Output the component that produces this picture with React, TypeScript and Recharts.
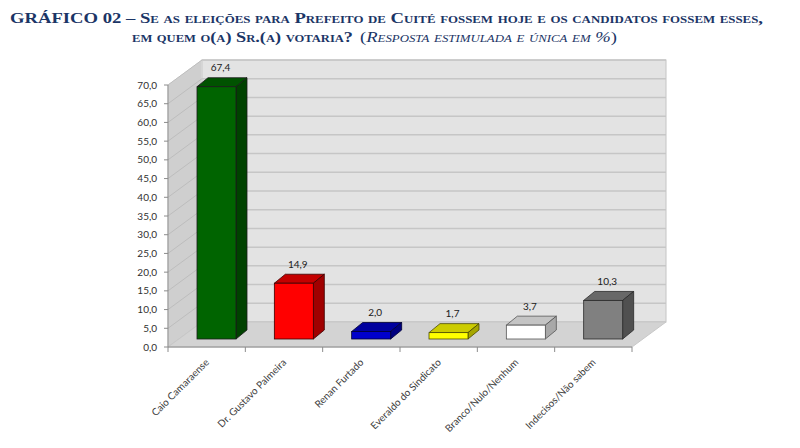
import React from 'react';
import { BarChart, Bar, XAxis, YAxis, ReferenceArea, LabelList } from 'recharts';

const categories = [
  'Caio Camaraense',
  'Dr. Gustavo Palmeira',
  'Renan Furtado',
  'Everaldo do Sindicato',
  'Branco/Nulo/Nenhum',
  'Indecisos/Não sabem',
];
const values = [67.4, 14.9, 2.0, 1.7, 3.7, 10.3];
const yTicks = [0, 5, 10, 15, 20, 25, 30, 35, 40, 45, 50, 55, 60, 65, 70];
const frontColors = ['#006400', '#FF0000', '#0000CC', '#FFFF00', '#FFFFFF', '#808080'];
const topColors = ['#005200', '#C40000', '#00009E', '#CCCC00', '#C4C4C4', '#686868'];
const sideColors = ['#004200', '#A00000', '#000080', '#A6A600', '#A8A8A8', '#505050'];
const strokeColors = ['#1a1a1a', '#3a0000', '#000033', '#4a4a00', '#555555', '#2a2a2a'];

const data = categories.map((name, i) => ({ name, value: values[i] }));

// 3D geometry (style constants)
const DEPTH_X = 34;
const DEPTH_Y = -25;
const FRONT_X = 10;
const FRONT_Y = -8;
const BAR_DX = 11;
const BAR_DY = -9;

const fmt = (v: number) => v.toFixed(1).replace('.', ',');
const FONT = 'Lato, "Open Sans", sans-serif';

const Walls = (props: any) => {
  const { x, y, width, height } = props;
  const maxV = yTicks[yTicks.length - 1];
  const yOf = (v: number) => y + height - (v / maxV) * height;
  const n = categories.length;
  return (
    <g>
      {/* back wall */}
      <rect x={x + DEPTH_X} y={y + DEPTH_Y} width={width} height={height} fill="#E3E3E3" stroke="#C4C4C4" strokeWidth={1} />
      {/* left wall */}
      <polygon
        points={`${x},${y} ${x + DEPTH_X},${y + DEPTH_Y} ${x + DEPTH_X},${y + height + DEPTH_Y} ${x},${y + height}`}
        fill="#CFCFCF"
        stroke="#DADADA"
        strokeWidth={1}
      />
      {yTicks.map((t) => (
        <g key={t}>
          <line x1={x + DEPTH_X} x2={x + DEPTH_X + width} y1={yOf(t) + DEPTH_Y} y2={yOf(t) + DEPTH_Y} stroke="#C6C6C6" strokeWidth={1.5} />
          <line x1={x} x2={x + DEPTH_X} y1={yOf(t)} y2={yOf(t) + DEPTH_Y} stroke="#BDBDBD" strokeWidth={1} />
        </g>
      ))}
      {/* floor */}
      <polygon
        points={`${x},${y + height} ${x + width},${y + height} ${x + width + DEPTH_X},${y + height + DEPTH_Y} ${x + DEPTH_X},${y + height + DEPTH_Y}`}
        fill="#D3D3D3"
        stroke="#C8C8C8"
        strokeWidth={1}
      />
      {Array.from({ length: n + 1 }).map((_, i) => (
        <line key={i} x1={x + (i * width) / n} x2={x + (i * width) / n} y1={y + height} y2={y + height + 5} stroke="#8C8C8C" strokeWidth={1} />
      ))}
    </g>
  );
};

const Bar3D = (props: any) => {
  const { x, y, width, height, index } = props;
  if (width == null || height == null) return null;
  const fx = x + FRONT_X;
  const fy = y + FRONT_Y;
  const w = width;
  const h = height;
  const sc = strokeColors[index];
  return (
    <g>
      <polygon
        points={`${fx},${fy} ${fx + w},${fy} ${fx + w + BAR_DX},${fy + BAR_DY} ${fx + BAR_DX},${fy + BAR_DY}`}
        fill={topColors[index]}
        stroke={sc}
        strokeWidth={0.8}
        strokeLinejoin="round"
      />
      <polygon
        points={`${fx + w},${fy} ${fx + w + BAR_DX},${fy + BAR_DY} ${fx + w + BAR_DX},${fy + h + BAR_DY} ${fx + w},${fy + h}`}
        fill={sideColors[index]}
        stroke={sc}
        strokeWidth={0.8}
        strokeLinejoin="round"
      />
      <rect x={fx} y={fy} width={w} height={h} fill={frontColors[index]} stroke={sc} strokeWidth={0.8} />
    </g>
  );
};

const ValueLabel = (props: any) => {
  const { x, y, width, value } = props;
  return (
    <text
      x={x + width / 2 + 14}
      y={y - 26}
      textAnchor="middle"
      dominantBaseline="middle"
      fontSize={10}
      fontFamily={FONT}
      fill="#202020"
    >
      {fmt(Number(value))}
    </text>
  );
};

const XTick = (props: any) => {
  const { x, y, payload } = props;
  return (
    <g transform={`translate(${x + 3},${y + 16}) rotate(-45)`}>
      <text x={0} y={0} textAnchor="end" fontSize={10} fontFamily={FONT} fill="#404040">
        {payload.value}
      </text>
    </g>
  );
};

const TITLE_COLOR = '#1B3566';

export default function App() {
  return (
    <div style={{ position: 'absolute', left: 0, top: 0, width: 800, height: 448, background: '#fff' }}>
      <svg width={800} height={50} style={{ position: 'absolute', left: 0, top: 0 }}>
        <text
          x={10}
          y={22.5}
          textLength={753}
          lengthAdjust="spacingAndGlyphs"
          fontFamily='"Liberation Serif", "Times New Roman", serif'
          fontSize={14.5}
          fontWeight="bold"
          fill={TITLE_COLOR}
          style={{ fontVariant: 'small-caps' }}
        >
          GRÁFICO 02 – Se as eleições para Prefeito de Cuité fossem hoje e os candidatos fossem esses,
        </text>
        <text
          x={132}
          y={41.5}
          textLength={221}
          lengthAdjust="spacingAndGlyphs"
          fontFamily='"Liberation Serif", "Times New Roman", serif'
          fontSize={14.5}
          fontWeight="bold"
          fill={TITLE_COLOR}
          style={{ fontVariant: 'small-caps' }}
        >
          em quem o(a) Sr.(a) votaria?
        </text>
        <text
          x={360}
          y={41.5}
          textLength={257}
          lengthAdjust="spacingAndGlyphs"
          fontFamily='"Liberation Serif", "Times New Roman", serif'
          fontSize={14.5}
          fill={TITLE_COLOR}
          style={{ fontVariant: 'small-caps' }}
        >
          <tspan>(</tspan>
          <tspan fontStyle="italic">Resposta estimulada e única em %</tspan>
          <tspan>)</tspan>
        </text>
      </svg>
      <div style={{ position: 'absolute', left: 0, top: 0 }}>
        <BarChart width={800} height={448} data={data} margin={{ top: 85, right: 168, bottom: 0, left: 128 }}>
          <ReferenceArea y1={0} y2={70} ifOverflow="visible" shape={(p: any) => <Walls {...p} />} />
          <XAxis
            dataKey="name"
            height={101}
            interval={0}
            tickLine={false}
            tickSize={0}
            tickMargin={0}
            axisLine={{ stroke: '#8C8C8C' }}
            tick={<XTick />}
          />
          <YAxis
            width={40}
            domain={[0, 70]}
            ticks={yTicks}
            interval={0}
            tickFormatter={fmt}
            tickSize={4}
            tickMargin={7}
            axisLine={{ stroke: '#8C8C8C' }}
            tickLine={{ stroke: '#8C8C8C' }}
            tick={{ fontSize: 10, fontFamily: FONT, fill: '#303030' }}
          />
          <Bar dataKey="value" barSize={39} isAnimationActive={false} shape={(p: any) => <Bar3D {...p} />}>
            <LabelList dataKey="value" content={(p: any) => <ValueLabel {...p} />} />
          </Bar>
        </BarChart>
      </div>
    </div>
  );
}
